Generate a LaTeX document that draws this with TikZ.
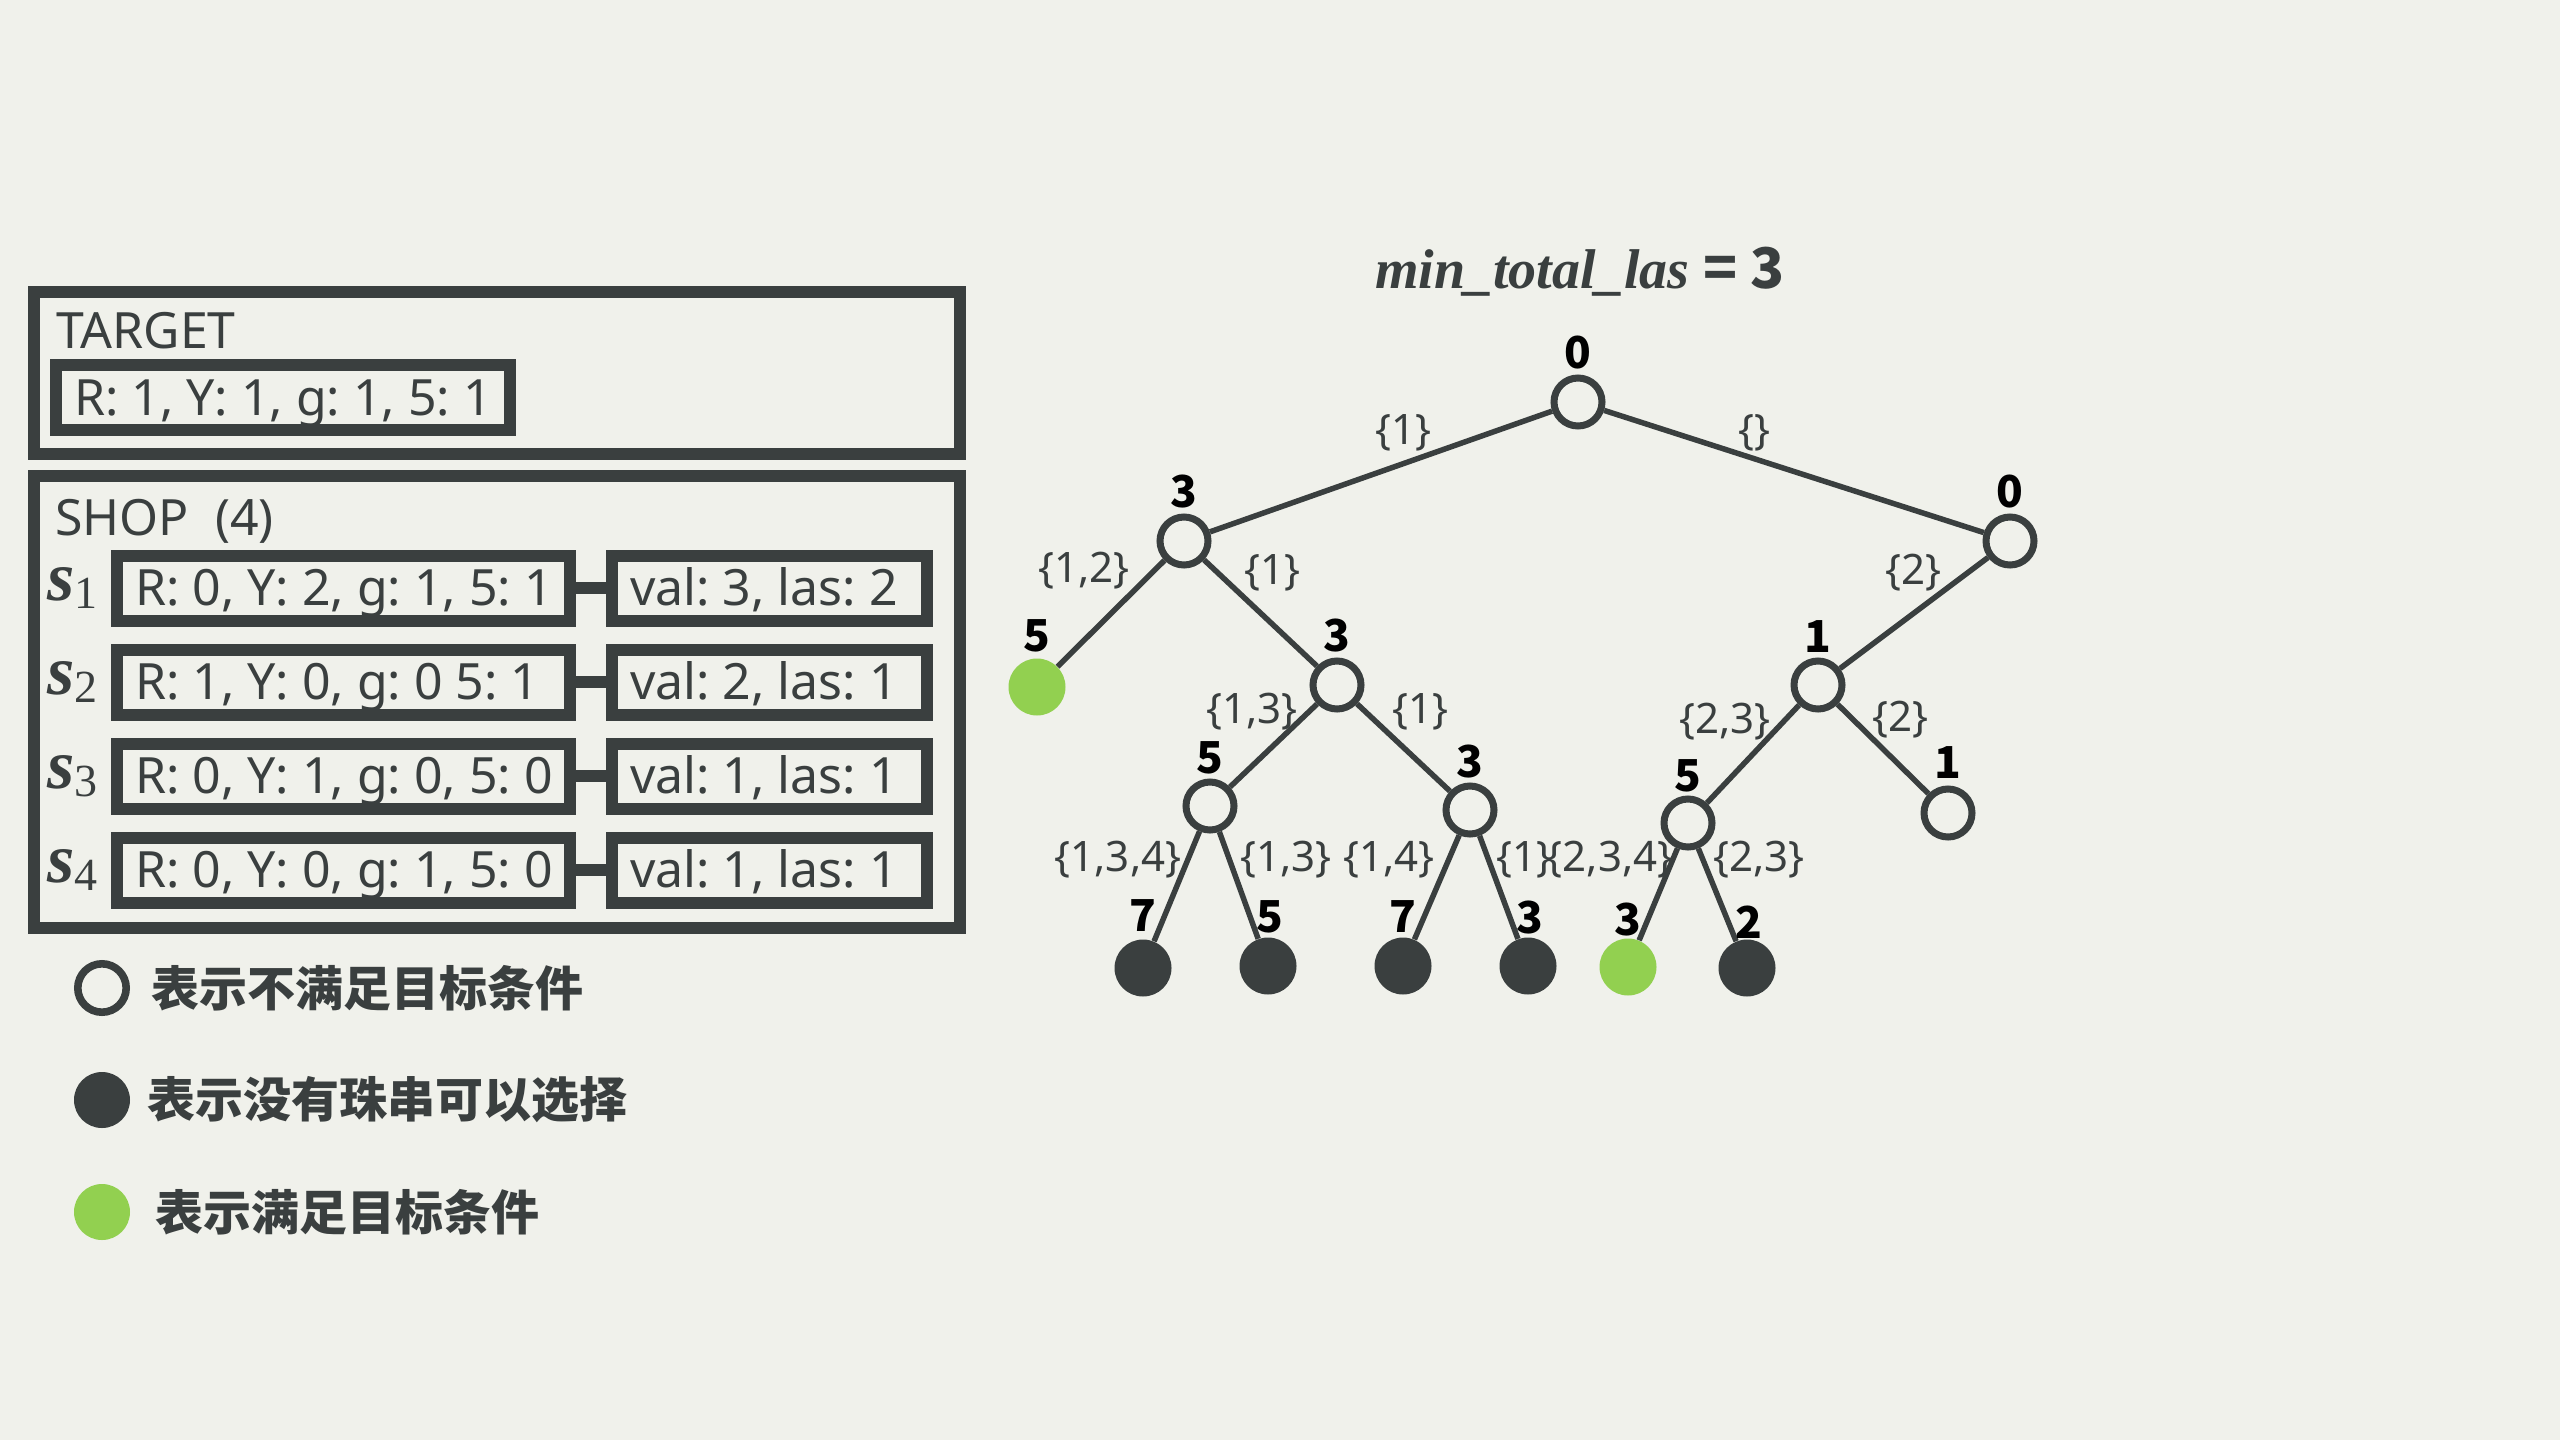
\documentclass[tikz,border=0pt]{standalone}
\usepackage{fontspec}
\setmainfont{Noto Sans}
\newfontfamily\cjk{Noto Sans CJK SC}
\newfontfamily\titlef{Liberation Serif}
\definecolor{bg}{HTML}{F0F1EB}
\definecolor{dk}{HTML}{3A3F3F}
\definecolor{gr}{HTML}{92D050}
\tikzset{
  bigbox/.style={draw=dk, line width=6pt, inner sep=0pt},
  rowbox/.style={draw=dk, line width=6pt, font=\fontsize{25}{29}\selectfont, text=dk,
    inner xsep=9pt, inner ysep=0pt, text height=17.85pt, text depth=0pt,
    minimum height=32.5pt},
  link/.style={draw=dk, line width=6pt},
  plain/.style={inner sep=0pt, text=dk, font=\fontsize{25}{29}\selectfont},
  open/.style={circle, draw=dk, line width=3.5pt, fill=bg, minimum size=24pt, inner sep=0pt},
  nochoice/.style={circle, fill=dk, minimum size=28.5pt, inner sep=0pt},
  goal/.style={circle, fill=gr, minimum size=28.5pt, inner sep=0pt},
  vlab/.style={font=\cjk\bfseries\fontsize{22}{22}\selectfont, text=black, inner sep=0pt},
  elab/.style={font=\fontsize{21}{21}\selectfont, text=dk, inner sep=0pt},
  treeedge/.style={draw=dk, line width=2.75pt},
  legtext/.style={anchor=west, inner sep=0pt, text=dk, font=\cjk\bfseries\fontsize{24}{24}\selectfont},
  slab/.style={anchor=base west, inner sep=0pt, text=dk},
}
\newcommand{\slabel}[1]{{\titlef\bfseries\itshape\fontsize{35}{35}\selectfont s}\raisebox{-4pt}{\titlef\fontsize{23}{23}\selectfont #1}}
\newcommand{\lefttxt}[1]{\makebox[208.5pt][l]{#1}}
\newcommand{\valtxt}[1]{\makebox[139.5pt][l]{#1}}
\begin{document}
\frenchspacing
\begin{tikzpicture}[x=0.5pt,y=-0.5pt]
\fill[bg] (0,0) rectangle (2560,1440);
\useasboundingbox (0,0) rectangle (2560,1440);

% ---------- TARGET ----------
\node[bigbox, minimum width=463pt, minimum height=81pt] (target) at (497,373) {};
\node[plain, anchor=base west] (targettitle) at (56,348) {TARGET};
\node[rowbox] (tv) at (283,397.5) {\makebox[209pt][l]{R: 1, Y: 1, g: 1, 5: 1}};

% ---------- SHOP ----------
\node[bigbox, minimum width=463pt, minimum height=226pt] (shop) at (497,702) {};
\node[plain, anchor=base west] (shoptitle) at (55,535) {SHOP~~(4)};

\node[slab] (s1) at (47,600) {\slabel{1}};
\node[rowbox] (r1) at (343.5,588) {\lefttxt{R: 0, Y: 2, g: 1, 5: 1}};
\node[rowbox] (v1) at (769.5,588) {\valtxt{val: 3, las: 2}};
\draw[link] (r1.east) -- (v1.west);

\node[slab] (s2) at (47,694) {\slabel{2}};
\node[rowbox] (r2) at (343.5,682) {\lefttxt{R: 1, Y: 0, g: 0 5: 1}};
\node[rowbox] (v2) at (769.5,682) {\valtxt{val: 2, las: 1}};
\draw[link] (r2.east) -- (v2.west);

\node[slab] (s3) at (47,788) {\slabel{3}};
\node[rowbox] (r3) at (343.5,776) {\lefttxt{R: 0, Y: 1, g: 0, 5: 0}};
\node[rowbox] (v3) at (769.5,776) {\valtxt{val: 1, las: 1}};
\draw[link] (r3.east) -- (v3.west);

\node[slab] (s4) at (47,882) {\slabel{4}};
\node[rowbox] (r4) at (343.5,870) {\lefttxt{R: 0, Y: 0, g: 1, 5: 0}};
\node[rowbox] (v4) at (769.5,870) {\valtxt{val: 1, las: 1}};
\draw[link] (r4.east) -- (v4.west);

% ---------- Legend ----------
\node[open, line width=3.8pt, minimum size=24.2pt] (lg1) at (102,988) {};
\node[legtext] (lt1) at (151,988) {表示不满足目标条件};
\node[nochoice, minimum size=28pt] (lg2) at (102,1100) {};
\node[legtext] (lt2) at (147,1100) {表示没有珠串可以选择};
\node[goal, minimum size=28pt] (lg3) at (102,1212) {};
\node[legtext] (lt3) at (155,1212) {表示满足目标条件};

% ---------- Title ----------
\node[anchor=base, inner sep=0pt, text=dk, font=\fontsize{28}{28}\selectfont] (title) at (1580,288)
  {{\titlef\bfseries\itshape min\_total\_las}\ {\cjk\bfseries = 3}};

% ---------- Tree nodes ----------
\node[open] (R) at (1578,402) {};
\node[open] (A) at (1184,541) {};
\node[open] (B) at (2010,541) {};
\node[goal] (A1) at (1037,687) {};
\node[open] (A2) at (1337,685) {};
\node[open] (A21) at (1210,806) {};
\node[open] (A22) at (1470,810) {};
\node[open] (B1) at (1818,685) {};
\node[open] (B2) at (1948,813) {};
\node[open] (B11) at (1688,823) {};
\node[nochoice] (A211) at (1143,968) {};
\node[nochoice] (A212) at (1268,966) {};
\node[nochoice] (A221) at (1403,966) {};
\node[nochoice] (A222) at (1528,966) {};
\node[goal] (B111) at (1628,967) {};
\node[nochoice] (B112) at (1747,968) {};

% ---------- Tree edges ----------
\draw[treeedge] (R) -- (A);
\draw[treeedge] (R) -- (B);
\draw[treeedge] (A) -- (A1);
\draw[treeedge] (A) -- (A2);
\draw[treeedge] (A2) -- (A21);
\draw[treeedge] (A2) -- (A22);
\draw[treeedge] (A21) -- (A211);
\draw[treeedge] (A21) -- (A212);
\draw[treeedge] (A22) -- (A221);
\draw[treeedge] (A22) -- (A222);
\draw[treeedge] (B) -- (B1);
\draw[treeedge] (B1) -- (B11);
\draw[treeedge] (B1) -- (B2);
\draw[treeedge] (B11) -- (B111);
\draw[treeedge] (B11) -- (B112);

% ---------- Value labels ----------
\node[vlab] (vR) at (1578,353) {0};
\node[vlab] (vA) at (1184,492) {3};
\node[vlab] (vB) at (2010,492) {0};
\node[vlab] (vA1) at (1037,636) {5};
\node[vlab] (vA2) at (1337,636) {3};
\node[vlab] (vA21) at (1210,758) {5};
\node[vlab] (vA22) at (1470,762) {3};
\node[vlab] (vB1) at (1818,637) {1};
\node[vlab] (vB2) at (1948,763) {1};
\node[vlab] (vB11) at (1688,776) {5};
\node[vlab] (vA211) at (1143,916) {7};
\node[vlab] (vA212) at (1270,917) {5};
\node[vlab] (vA221) at (1403,917) {7};
\node[vlab] (vA222) at (1530,918) {3};
\node[vlab] (vB111) at (1628,920) {3};
\node[vlab] (vB112) at (1749,922) {2};

% ---------- Edge labels ----------
\node[elab] (eRA) at (1403,433) {\{1\}};
\node[elab] (eRB) at (1754,433) {\{\}};
\node[elab] (eAA1) at (1084,571) {\{1,2\}};
\node[elab] (eAA2) at (1272,573) {\{1\}};
\node[elab] (eBB1) at (1913,573) {\{2\}};
\node[elab] (eA2A21) at (1252,712) {\{1,3\}};
\node[elab] (eA2A22) at (1420,712) {\{1\}};
\node[elab] (eB1B11) at (1725,722) {\{2,3\}};
\node[elab] (eB1B2) at (1900,720) {\{2\}};
\node[elab] (eA211) at (1118,860) {\{1,3,4\}};
\node[elab] (eA212) at (1286,860) {\{1,3\}};
\node[elab] (eA221) at (1389,860) {\{1,4\}};
\node[elab] (eA222) at (1524,860) {\{1\}};
\node[elab] (eB111) at (1610,860) {\{2,3,4\}};
\node[elab] (eB112) at (1759,860) {\{2,3\}};
\end{tikzpicture}
\end{document}
